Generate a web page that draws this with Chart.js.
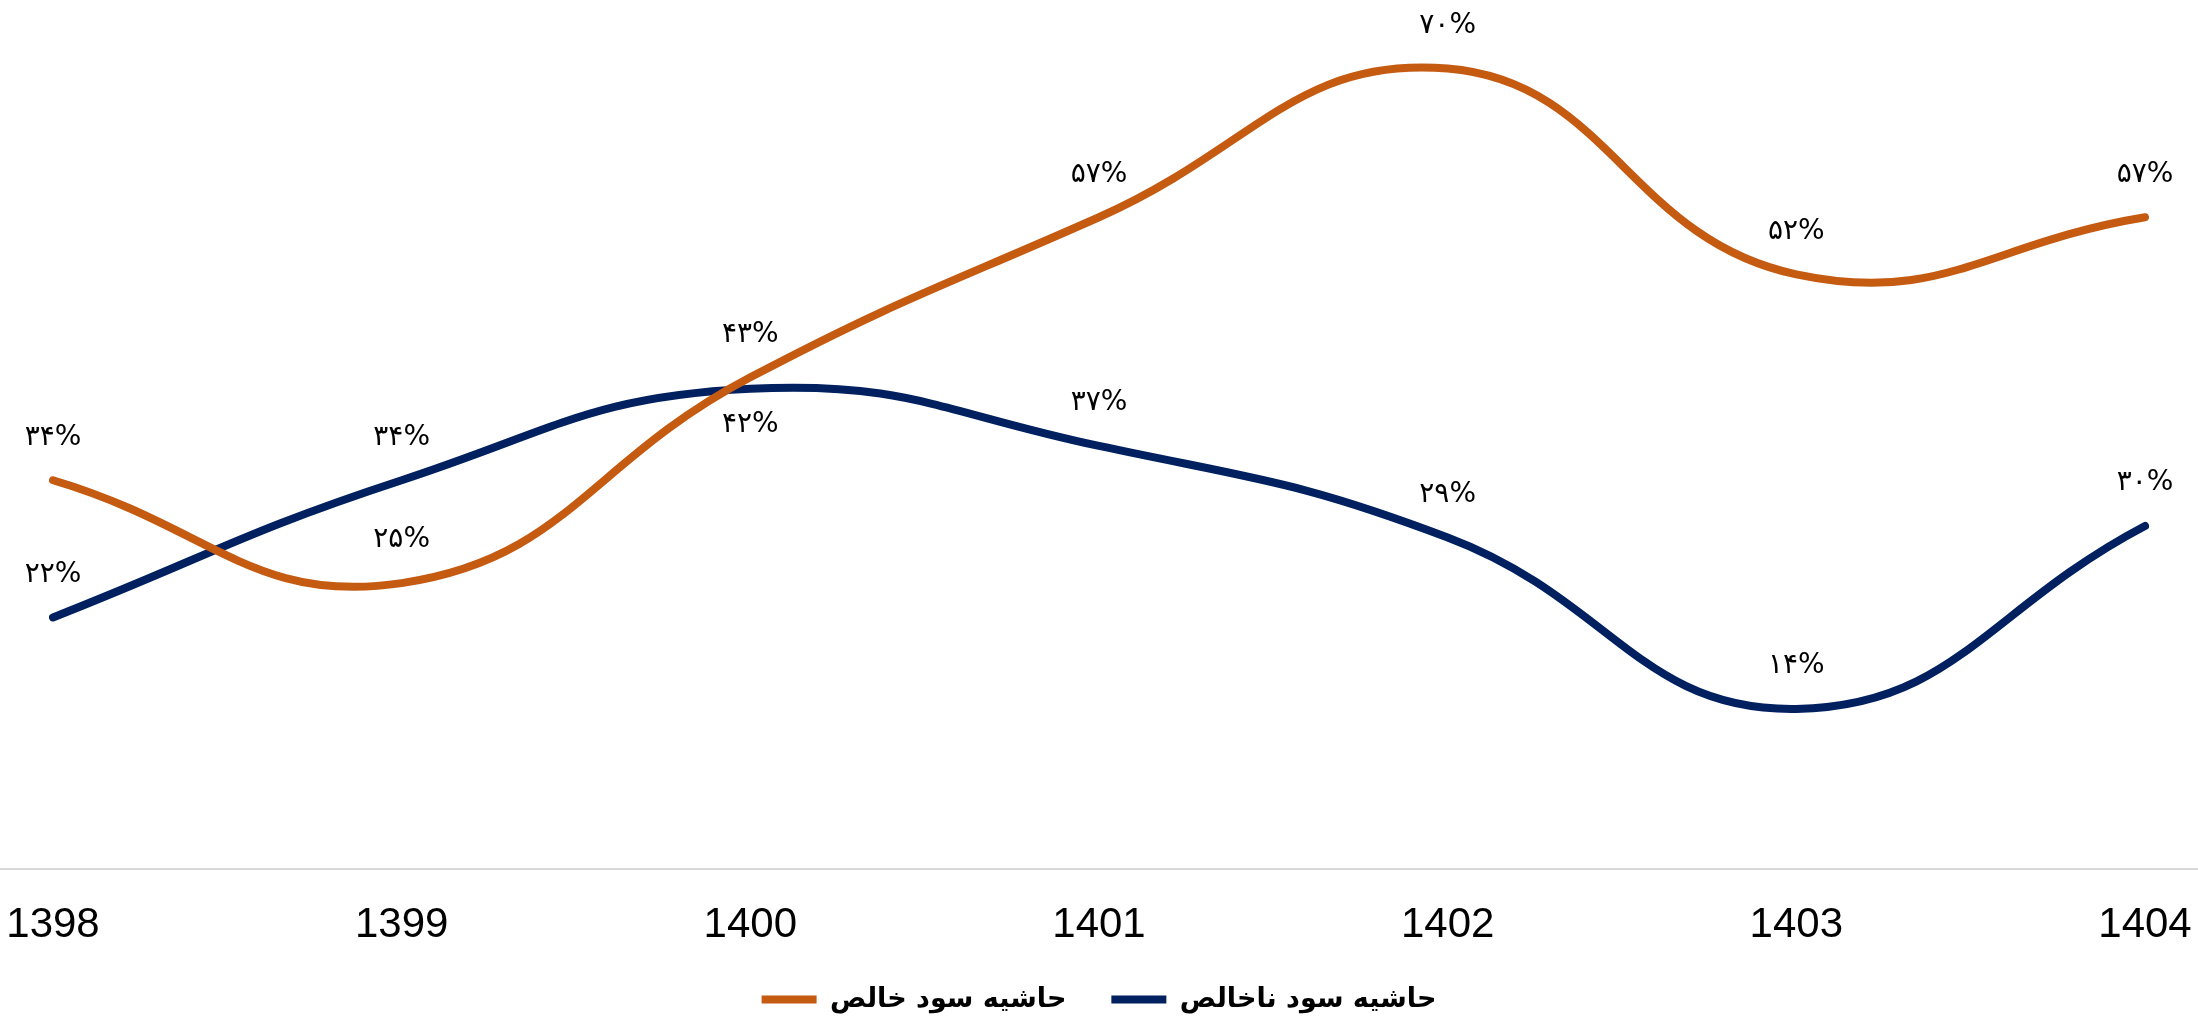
<!DOCTYPE html>
<html>
<head>
<meta charset="utf-8">
<title>حاشیه سود</title>
<script src="https://cdn.jsdelivr.net/npm/chart.js@4.4.0/dist/chart.umd.min.js"></script>
<style>
  html, body { margin: 0; padding: 0; background: #fff; }
  #marginChart { display: block; }
</style>
</head>
<body>
<canvas id="marginChart" width="2198" height="1017"></canvas>
<script>
// years on the x axis and the two margin series (percent)
const years = ['1398', '1399', '1400', '1401', '1402', '1403', '1404'];
const netMargin = [34, 25, 43, 57, 70, 52, 57];      // حاشیه سود خالص
const grossMargin = [22, 34, 42, 37, 29, 14, 30];    // حاشیه سود ناخالص
const seriesNames = ['حاشیه سود خالص', 'حاشیه سود ناخالص'];

const persianDigits = '۰۱۲۳۴۵۶۷۸۹';
function toPersian(n) {
    return String(n).replace(/[0-9]/g, d => persianDigits[d]) + '%';
}

// draws the percent labels over each point
const pointLabels = {
    id: 'pointLabels',
    afterDatasetsDraw(chart) {
        const ctx = chart.ctx;
        ctx.save();
        ctx.font = '28px "DejaVu Sans"';
        ctx.fillStyle = '#000';
        ctx.textAlign = 'center';
        ctx.textBaseline = 'middle';
        chart.data.datasets.forEach((ds, i) => {
            const other = chart.data.datasets[1 - i].data;
            chart.getDatasetMeta(i).data.forEach((pt, j) => {
                const v = ds.data[j];
                // lower series goes below when both lines meet
                const below = other[j] > v && other[j] - v < 3;
                ctx.fillText(toPersian(v), pt.x, below ? pt.y + 36 : pt.y - 43);
            });
        });
        ctx.restore();
    }
};

// light baseline across the whole width
const baseline = {
    id: 'baseline',
    beforeDatasetsDraw(chart) {
        const ctx = chart.ctx;
        const y = chart.chartArea.bottom;
        ctx.save();
        ctx.strokeStyle = '#d9d9d9';
        ctx.lineWidth = 2;
        ctx.beginPath();
        ctx.moveTo(0, y);
        ctx.lineTo(chart.width, y);
        ctx.stroke();
        ctx.restore();
    }
};

new Chart(document.getElementById('marginChart'), {
    type: 'line',
    data: {
        labels: years,
        datasets: [{
            label: seriesNames[0],
            data: netMargin,
            borderColor: '#c55a11',
            backgroundColor: '#c55a11',
            borderWidth: 8,
            borderCapStyle: 'round',
            pointRadius: 0,
            tension: 0.45,
        }, {
            label: seriesNames[1],
            data: grossMargin,
            borderColor: '#002060',
            backgroundColor: '#002060',
            borderWidth: 8,
            borderCapStyle: 'round',
            pointRadius: 0,
            tension: 0.45,
        }]
    },
    options: {
        responsive: false,
        devicePixelRatio: 1,
        animation: false,
        layout: { padding: { left: 53, right: 53, top: 0, bottom: -6 } },
        plugins: {
            legend: {
                position: 'bottom',
                labels: {
                    usePointStyle: true,
                    pointStyle: 'line',
                    pointStyleWidth: 55,
                    boxHeight: 7,
                    padding: 45,
                    color: '#000',
                    font: { family: '"DejaVu Sans"', size: 27, weight: 'bold' }
                }
            },
            tooltip: { enabled: false }
        },
        scales: {
            x: {
                grid: { display: false, drawTicks: false },
                border: { display: false },
                ticks: {
                    padding: 31,
                    color: '#000',
                    font: { family: '"Liberation Sans", Arial', size: 42 }
                },
                afterFit(scale) {
                    scale.height = 72;
                    scale.paddingLeft = 0;
                    scale.paddingRight = 0;
                }
            },
            y: {
                display: false,
                min: 0,
                max: 76
            }
        }
    },
    plugins: [baseline, pointLabels]
});
</script>
</body>
</html>
